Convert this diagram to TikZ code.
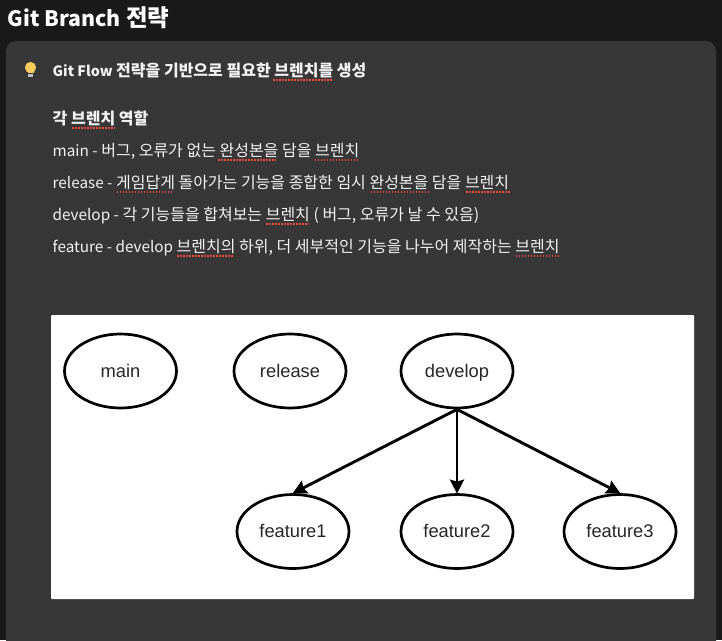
\documentclass[tikz,border=0pt]{standalone}
\usepackage{fontspec}
\setmainfont{Noto Sans CJK KR}
\newfontfamily\diagfont{Liberation Sans}
\newcommand\sz[2]{{\fontsize{#1}{#1}\selectfont #2}}
\newcommand\rl[1]{\sz{15.3}{#1}}
\newcommand\bl[1]{\sz{14.3}{#1}}
\usetikzlibrary{shapes.geometric,arrows.meta}
\definecolor{pagebg}{HTML}{191919}
\definecolor{cardbg}{HTML}{373737}
\definecolor{bodytxt}{HTML}{F2F2F2}
\definecolor{squiggle}{HTML}{F04A40}
\definecolor{bulb}{HTML}{F6CB5E}
\definecolor{bulbbase}{HTML}{B9BCC0}
\tikzset{
  x=1pt,y=-1pt,
  bodyline/.style={anchor=base west,inner sep=0pt,text=bodytxt,font=\fontsize{16}{18}\selectfont},
  boldline/.style={anchor=base west,inner sep=0pt,text=bodytxt,font=\fontsize{16}{18}\selectfont\bfseries},
  squig/.style={draw=squiggle,line width=1.5pt,dash pattern=on 1.5pt off 1.5pt},
  branch/.style={ellipse,draw=black,line width=2.7pt,minimum width=112pt,minimum height=74pt,inner sep=0pt,text height=12.5pt,text depth=0pt,font=\diagfont\fontsize{18.3}{20}\selectfont,text=black!85},
  link/.style={draw=black,line width=2.9pt,-{Stealth[length=14pt,width=14pt,inset=2pt]},shorten >=-0.5pt}
}
\begin{document}
\begin{tikzpicture}
\useasboundingbox (0,0) rectangle (722,640);
\fill[pagebg] (0,0) rectangle (722,640);
\fill[cardbg,rounded corners=10pt] (6,41) rectangle (716,660);
% title
\node[anchor=base west,inner sep=0pt,text=white,font=\fontsize{23.5}{26}\selectfont\bfseries] (title) at (7.5,26.5) {\sz{21.3}{Git Branch} 전략};
% bulb
\fill[bulb] (30.5,67.5) circle (5.6);
\fill[bulb] (27.5,70) rectangle (33.5,73);
\fill[bulbbase] (27.8,73.5) rectangle (33.2,77);
% text
\node[boldline] (callout) at (52.5,76.3) {\bl{Git Flow} 전략을 기반으로 필요한 브렌치를 생성};
\node[boldline] (roles) at (52.5,124.3) {각 브렌치 역할};
\node[bodyline] (lmain) at (52.5,156.3) {\rl{main -} 버그, 오류가 없는 완성본을 담을 브렌치};
\node[bodyline] (lrelease) at (52.5,188.3) {\rl{release -} 게임답게 돌아가는 기능을 종합한 임시 완성본을 담을 브렌치};
\node[bodyline] (ldevelop) at (52.5,220.3) {\rl{develop -} 각 기능들을 합쳐보는 브렌치 ( 버그, 오류가 날 수 있음)};
\node[bodyline] (lfeature) at (52.5,252.3) {\rl{feature - develop} 브렌치의 하위, 더 세부적인 기능을 나누어 제작하는 브렌치};
% squiggles
\draw[squig] (273,80) -- (332,80);
\draw[squig] (72,128) -- (115,128);
\draw[squig] (218,160) -- (276,160);
\draw[squig] (314.5,160) -- (358,160);
\draw[squig] (116.5,192) -- (173.5,192);
\draw[squig] (370.5,192) -- (428.5,192);
\draw[squig] (466,192) -- (510,192);
\draw[squig] (266,224) -- (309,224);
\draw[squig] (177,256) -- (234,256);
\draw[squig] (515.5,256) -- (559,256);
% diagram
\fill[white,rounded corners=1pt] (51,315) rectangle (694,599);
\node[branch] (main) at (120.5,371) {main};
\node[branch] (release) at (290,371) {release};
\node[branch] (develop) at (457,371) {develop};
\node[branch] (feature1) at (293,531.5) {feature1};
\node[branch] (feature2) at (457,531.5) {feature2};
\node[branch] (feature3) at (620,531.5) {feature3};
\draw[link] (develop.south) -- (feature1.north);
\draw[link] (develop.south) -- (feature2.north);
\draw[link] (develop.south) -- (feature3.north);
\end{tikzpicture}
\end{document}
